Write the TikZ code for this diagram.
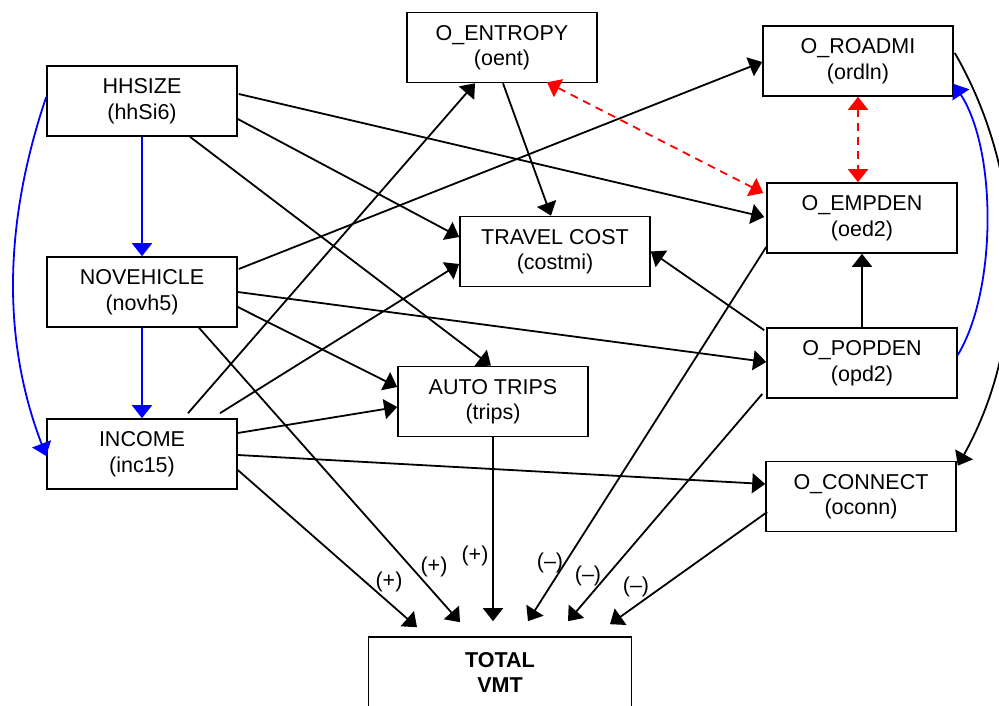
\documentclass[tikz,border=0pt]{standalone}
\usepackage{fontspec}
\setmainfont{Liberation Sans}
\usetikzlibrary{arrows.meta,calc}
\begin{document}
\begin{tikzpicture}[x=1pt,y=-1pt,
  varbox/.style={draw,line width=1.6pt,minimum width=190pt,minimum height=70pt,
    align=center,inner sep=0pt,font=\fontsize{21.5}{25.5}\selectfont,
    execute at begin node={\rule{0pt}{22pt}}},
  link/.style={line width=1.8pt,-{Triangle[length=13pt,width=20pt]}},
  blink/.style={link,blue},
  rlink/.style={line width=1.8pt,red,dash pattern=on 8pt off 6pt,
    {Triangle[length=13pt,width=20pt]}-{Triangle[length=13pt,width=20pt]}},
  sign/.style={font=\fontsize{21.5}{25.5}\selectfont,inner sep=0pt}]
\useasboundingbox (0,0) rectangle (999,706);

% variables
\node[varbox] (hh)  at (142,101)   {HHSIZE\\(hhSi6)};
\node[varbox] (nv)  at (142,292)   {NOVEHICLE\\(novh5)};
\node[varbox] (inc) at (142,454)   {INCOME\\(inc15)};
\node[varbox] (ent) at (502,47.5)  {O\_ENTROPY\\(oent)};
\node[varbox] (tc)  at (555,251.5) {TRAVEL COST\\(costmi)};
\node[varbox] (at)  at (493,401.5) {AUTO TRIPS\\(trips)};
\node[varbox] (rd)  at (858,61)    {O\_ROADMI\\(ordln)};
\node[varbox] (emp) at (862,218)   {O\_EMPDEN\\(oed2)};
\node[varbox] (pop) at (862,363)   {O\_POPDEN\\(opd2)};
\node[varbox] (con) at (861,496.5) {O\_CONNECT\\(oconn)};
\node[varbox,minimum width=263pt,minimum height=71pt,
  font=\fontsize{21.5}{25.5}\selectfont\bfseries,execute at begin node={}]
  (tv) at (500,672.5) {TOTAL\\VMT};

% household chain
\draw[blink] (hh.south) -- (nv.north);
\draw[blink] (nv.south) -- (inc.north);
\draw[blink] ($(hh.west)+(0,-4)$) .. controls (8,210) and (-2,330) .. ($(inc.west)+(0,2)$);

% household size
\draw[link] ($(hh.east)+(0,18)$) -- ($(tc.west)+(0,-14.5)$);
\draw[link] ($(hh.east)+(1,-7)$) -- ($(emp.west)+(-2,-1)$);
\draw[link] ($(hh.south)+(48,0)$) -- ($(at.north)+(-2,0)$);

% vehicles
\draw[link] ($(nv.east)+(1,-23)$) -- ($(rd.west)+(0,1)$);
\draw[link] (nv.east) -- ($(pop.west)+(0,-1)$);
\draw[link] ($(nv.east)+(0,15)$) -- ($(at.west)+(0,-14.5)$);
\draw[link] ($(nv.south)+(57,0)$) -- ($(tv.north)+(-40,-14)$);

% income
\draw[link] ($(inc.north)+(46,-5)$) -- ($(ent.south)+(-27,0)$);
\draw[link] ($(inc.north)+(78,-5)$) -- ($(tc.west)+(0,12.5)$);
\draw[link] ($(inc.east)+(0,-21)$) -- ($(at.west)+(0,5.5)$);
\draw[link] ($(inc.east)+(0,1)$) -- ($(con.west)+(0,-12.5)$);
\draw[link] ($(inc.east)+(0,16)$) -- ($(tv.north)+(-83,-9)$);

% trips, entropy
\draw[link] (at.south) -- ($(tv.north)+(-7,-15)$);
\draw[link] ($(ent.south)+(1,0)$) -- ($(tc.north)+(-4,0)$);

% correlations
\draw[rlink] ($(ent.south)+(45,-1)$) -- ($(emp.west)+(-3,-25)$);
\draw[rlink] (rd.south) -- ($(emp.north)+(-4,0)$);

% urban form
\draw[link] (pop.north) -- (emp.south);
\draw[link] ($(pop.north west)+(-2,3)$) -- (tc.east);
\draw[blink] ($(pop.east)+(0,-8)$) .. controls (997,290) and (997,150) .. ($(rd.east)+(0,23)$);
\draw[link] ($(rd.east)+(1,-8)$) .. controls (1028,180) and (1028,340) .. ($(con.north east)+(1,5)$);
\draw[link] ($(emp.west)+(0,29)$) -- ($(tv.north)+(28,-15)$);
\draw[link] ($(pop.west)+(-4,31)$) -- ($(tv.north)+(68,-15)$);
\draw[link] ($(con.west)+(2,15.5)$) -- ($(tv.north)+(110,-12)$);

% signs of the effects on VMT
\node[sign] (s1) at (389,582) {(+)};
\node[sign] (s2) at (434,567) {(+)};
\node[sign] (s3) at (475,556) {(+)};
\node[sign] (s4) at (550,563) {(--)};
\node[sign] (s5) at (588,576) {(--)};
\node[sign] (s6) at (636,587) {(--)};
\end{tikzpicture}
\end{document}
